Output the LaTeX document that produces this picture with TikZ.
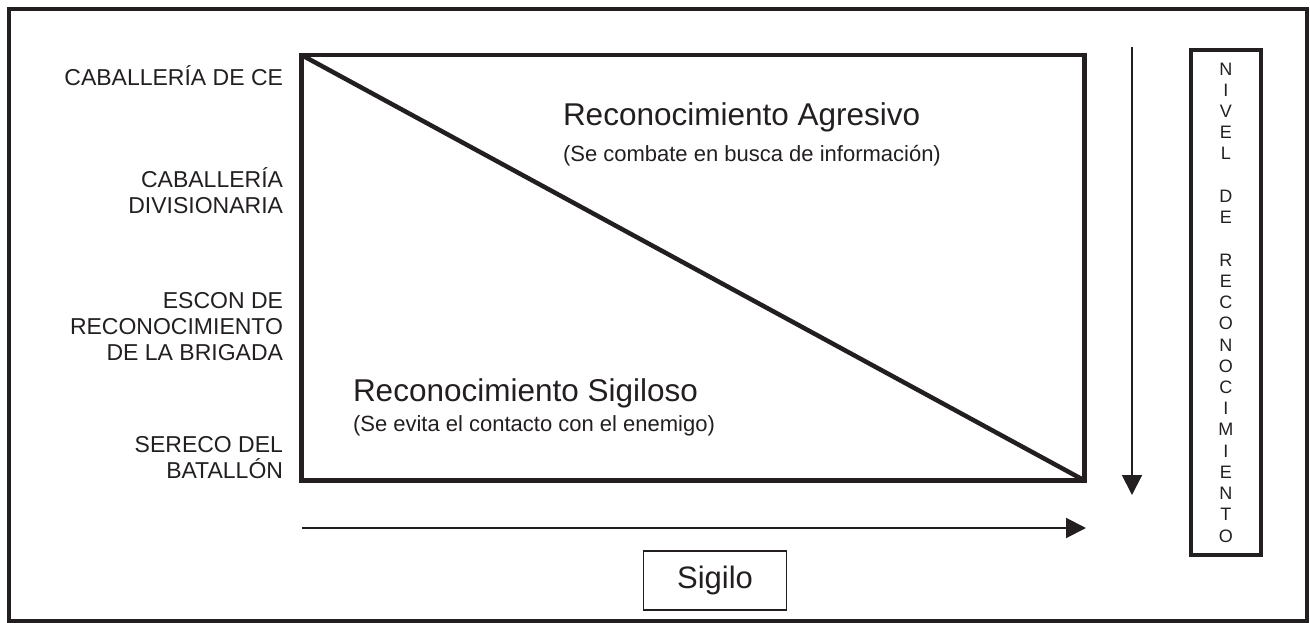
\documentclass[tikz,border=0pt]{standalone}
\usepackage{fontspec}
\setmainfont{Liberation Sans}
\usetikzlibrary{arrows.meta}
\definecolor{ink}{RGB}{35,31,32}
\begin{document}
\begin{tikzpicture}[x=1pt,y=-1pt,
  every node/.style={inner sep=0pt, outer sep=0pt, text=ink},
  thickbox/.style={draw=ink, line width=4.5pt},
  lbl/.style={anchor=base east, align=right, font=\fontsize{23}{26}\selectfont},
  ttl/.style={anchor=base west, font=\fontsize{31.5}{36}\selectfont},
  subttl/.style={anchor=base west, font=\fontsize{22}{26}\selectfont},
  axisarrow/.style={draw=ink, line width=2pt, -{Triangle[length=20pt,width=20pt]}},
]
\useasboundingbox (0,0) rectangle (1310,623);
\draw[draw=ink, line width=4pt] (9,9) rectangle (1307,621);

% main rectangle and diagonal
\node[thickbox, minimum width=783pt, minimum height=425.5pt] (main) at (693,267.75) {};
\draw[draw=ink, line width=4.5pt] (main.north west) -- (main.south east);

% left labels (base anchor = last line baseline)
\node[lbl] (l1) at (283,86) {CABALLERÍA DE CE};
\node[lbl] (l2) at (283,214) {CABALLERÍA\\DIVISIONARIA};
\node[lbl] (l3) at (283,360) {ESCON DE\\RECONOCIMIENTO\\DE LA BRIGADA};
\node[lbl] (l4) at (283,478) {SERECO DEL\\BATALLÓN};

% inner texts
\node[ttl] (agr) at (563,125.7) {Reconocimiento Agresivo};
\node[subttl] (agrs) at (563,161.5) {(Se combate en busca de información)};
\node[ttl] (sig) at (353,401.7) {Reconocimiento Sigiloso};
\node[subttl] (sigs) at (353,431.6) {(Se evita el contacto con el enemigo)};

% arrows
\coordinate (hs) at (301.5,528);
\coordinate (he) at (1086,528);
\draw[axisarrow] (hs) -- (he);
\coordinate (vs) at (1132,47);
\coordinate (ve) at (1132,495);
\draw[axisarrow] (vs) -- (ve);

% right vertical label box
\node[draw=ink, line width=4pt, minimum width=70.5pt, minimum height=505pt, align=center,
      font=\fontsize{18}{21.23}\selectfont] (nivel) at (1225.75,302.5)
  {N\\I\\V\\E\\L\\\mbox{}\\D\\E\\\mbox{}\\R\\E\\C\\O\\N\\O\\C\\I\\M\\I\\E\\N\\T\\O};

% Sigilo box
\node[draw=ink, line width=1.5pt, minimum width=142.6pt, minimum height=58.8pt,
      font=\fontsize{31}{36}\selectfont] (sigilo) at (715,580.4) {Sigilo};
\end{tikzpicture}
\end{document}
